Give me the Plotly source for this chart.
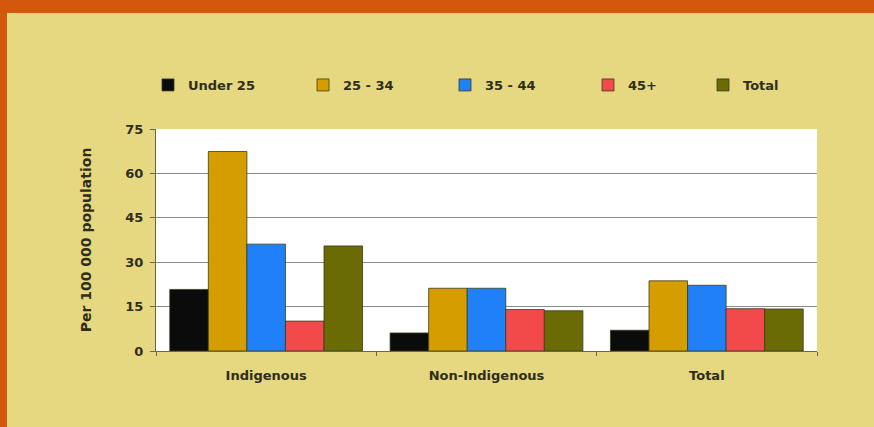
import plotly.graph_objects as go

categories = ["Indigenous", "Non-Indigenous", "Total"]
series_names = ["Under 25", "25 - 34", "35 - 44", "45+", "Total"]
under25 = [20.8, 6.1, 7.0]
age25_34 = [67.4, 21.2, 23.7]
age35_44 = [36.1, 21.2, 22.2]
age45p = [10.1, 14.0, 14.3]
total = [35.5, 13.6, 14.2]
y_ticks = [0, 15, 30, 45, 60, 75]

colors = ["#0b0b0b", "#d49e00", "#2080f8", "#f24a4a", "#6b6b06"]
values = [under25, age25_34, age35_44, age45p, total]
legend_px = [168, 323, 465, 608, 723]

W, H = 874, 427
L, R, T, B = 156, 57, 129, 76

pw = W - L - R
ph = H - T - B
def px2x(p):
    return (p - L) / pw
def py2y(p):
    return (H - B - p) / ph

font_col = "#2e2e1a"
FONT = "DejaVu Sans, Arial, sans-serif"

fig = go.Figure()
legend_ids = ["legend", "legend2", "legend3", "legend4", "legend5"]
for name, vals, col, lid in zip(series_names, values, colors, legend_ids):
    fig.add_trace(go.Bar(
        x=categories, y=vals, name=name, legend=lid,
        marker=dict(color=col, line=dict(color="#3a3a20", width=0.8)),
    ))

legend_layout = {}
for lid, cx in zip(legend_ids, legend_px):
    legend_layout[lid] = dict(
        orientation="h", x=px2x(cx - 20), xanchor="left", y=py2y(85), yanchor="middle",
        bgcolor="rgba(0,0,0,0)",
        font=dict(family=FONT, size=13, color=font_col, weight="bold"),
    )

border = "#d3580e"
shapes = [
    dict(type="rect", xref="paper", yref="paper", x0=px2x(0), x1=px2x(W),
         y0=py2y(13), y1=py2y(0), fillcolor=border, line=dict(width=0), layer="below"),
    dict(type="rect", xref="paper", yref="paper", x0=px2x(0), x1=px2x(7),
         y0=py2y(H), y1=py2y(0), fillcolor=border, line=dict(width=0), layer="below"),
]

fig.update_layout(
    width=W, height=H,
    margin=dict(l=L, r=R, t=T, b=B),
    paper_bgcolor="#e6d781",
    plot_bgcolor="#ffffff",
    barmode="group",
    bargap=0.125,
    bargroupgap=0,
    shapes=shapes,
    font=dict(family=FONT, size=13, color=font_col, weight="bold"),
    showlegend=True,
    xaxis=dict(
        showline=True, linecolor="#6a6650", linewidth=1,
        ticks="outside", tickson="boundaries", ticklen=4, tickcolor="#6a6650",
        showgrid=False, ticklabelstandoff=12,
        tickfont=dict(family=FONT, size=13, color=font_col, weight="bold"),
    ),
    yaxis=dict(
        range=[0, 75], tickvals=y_ticks, showline=True, linecolor="#6a6650", linewidth=1,
        ticks="outside", ticklen=5, tickcolor="#6a6650",
        showgrid=True, gridcolor="#8a8a8a", gridwidth=1, zeroline=False,
        ticklabelstandoff=4,
        tickfont=dict(family=FONT, size=13, color=font_col, weight="bold"),
        title=dict(text="Per 100 000 population",
                   font=dict(family=FONT, size=14, color=font_col, weight="bold"), standoff=30),
    ),
    **legend_layout,
)

fig.write_html("out.html")
